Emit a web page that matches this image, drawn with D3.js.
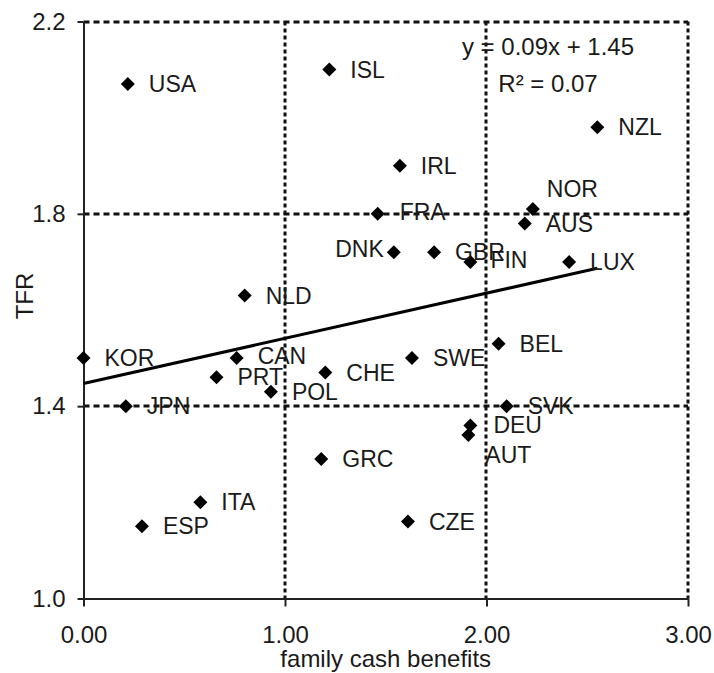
<!DOCTYPE html>
<html>
<head>
<meta charset="utf-8">
<script src="https://cdn.jsdelivr.net/npm/d3@7"></script>
<style>
  html, body { margin: 0; padding: 0; background: #fff; }
  svg { display: block; }
  text { font-family: "Liberation Sans", Arial, sans-serif; fill: #1a1a1a; }
</style>
</head>
<body>
<svg id="chart" width="714" height="673"></svg>
<script>
// Country codes, family cash benefits (x) and total fertility rate (y)
const countries = ["USA","ISL","NLD","DNK","GBR","FIN","LUX","NZL","IRL","FRA","NOR","AUS",
                   "KOR","CAN","PRT","POL","CHE","JPN","GRC","ITA","ESP","SWE","BEL","SVK",
                   "DEU","AUT","CZE"];
const benefits  = [0.22,1.22,0.80,1.54,1.74,1.92,2.41,2.55,1.57,1.46,2.23,2.19,
                   0.00,0.76,0.66,0.93,1.20,0.21,1.18,0.58,0.29,1.63,2.06,2.10,
                   1.92,1.91,1.61];
const tfr       = [2.07,2.10,1.63,1.72,1.72,1.70,1.70,1.98,1.90,1.80,1.81,1.78,
                   1.50,1.50,1.46,1.43,1.47,1.40,1.29,1.20,1.15,1.50,1.53,1.40,
                   1.36,1.34,1.16];

// Axis ticks
const xTicks = [0, 1, 2, 3];
const yTicks = [1.0, 1.4, 1.8, 2.2];

// Linear trend line
const trendSlope = 0.094;
const trendIntercept = 1.447;
const trendR2 = 0.07;

// Label placement tweaks for crowded points
const labelNudge = {
  DNK: { dx: -10, dy: -3, anchor: "end" },
  NOR: { dx: 14, dy: -20 },
  AUT: { dx: 17, dy: 20 },
  FIN: { dx: 20, dy: -2 },
  FRA: { dx: 22, dy: -2 },
  CAN: { dx: 21, dy: -2 },
  DEU: { dx: 23, dy: 0 }
};

const svg = d3.select("#chart");
const plotLeft = 83.5, plotRight = 688, plotTop = 21.5, plotBottom = 598.5;

const x = d3.scaleLinear().domain([0, 3]).range([plotLeft, plotRight]);
const y = d3.scaleLinear().domain([1.0, 2.2]).range([plotBottom, plotTop]);

svg.append("rect").attr("width", 714).attr("height", 673).attr("fill", "#fff");

// Grid: dashed horizontals, dotted verticals
const grid = svg.append("g");
grid.selectAll("line.h").data(yTicks.filter(v => v > 1.0)).join("line")
  .attr("class", "h")
  .attr("x1", plotLeft).attr("x2", plotRight)
  .attr("y1", d => Math.round(y(d))).attr("y2", d => Math.round(y(d)))
  .attr("stroke", "#111").attr("stroke-width", 3)
  .attr("stroke-dasharray", "6,4");
grid.selectAll("line.v").data(xTicks.filter(v => v > 0)).join("line")
  .attr("class", "v")
  .attr("x1", d => Math.round(x(d))).attr("x2", d => Math.round(x(d)))
  .attr("y1", plotTop).attr("y2", plotBottom)
  .attr("stroke", "#111").attr("stroke-width", 3)
  .attr("stroke-dasharray", "4,3");

// Axes
const xAxis = svg.append("g")
  .attr("transform", `translate(0,${plotBottom})`)
  .call(d3.axisBottom(x).tickValues(xTicks).tickFormat(d3.format(".2f"))
        .tickSize(8).tickPadding(19).tickSizeOuter(0));
const yAxis = svg.append("g")
  .attr("transform", `translate(${plotLeft},0)`)
  .call(d3.axisLeft(y).tickValues(yTicks).tickFormat(d3.format(".1f"))
        .tickSize(6).tickPadding(12).tickSizeOuter(0));

[xAxis, yAxis].forEach(g => {
  g.select(".domain").attr("stroke", "#222").attr("stroke-width", 2);
  g.selectAll(".tick line").attr("stroke", "#222").attr("stroke-width", 2);
  g.selectAll(".tick text")
    .attr("font-family", '"Liberation Sans", Arial, sans-serif')
    .attr("font-size", 24).attr("fill", "#1a1a1a");
});

// Axis titles
svg.append("text")
  .attr("x", (plotLeft + plotRight) / 2).attr("y", 667)
  .attr("text-anchor", "middle").attr("font-size", 24)
  .text("family cash benefits");
svg.append("text")
  .attr("transform", `translate(33,296) rotate(-90)`)
  .attr("text-anchor", "middle").attr("font-size", 24)
  .text("TFR");

// Trend line across the range of the data
const xExt = d3.extent(benefits);
svg.append("line")
  .attr("x1", x(xExt[0])).attr("y1", y(trendIntercept + trendSlope * xExt[0]))
  .attr("x2", x(xExt[1])).attr("y2", y(trendIntercept + trendSlope * xExt[1]))
  .attr("stroke", "#000").attr("stroke-width", 3);

// Trend equation
const f2 = d3.format(".2f");
svg.append("text")
  .attr("x", 548).attr("y", 55).attr("text-anchor", "middle").attr("font-size", 24)
  .text(`y = ${f2(trendSlope)}x + ${f2(trendIntercept)}`);
svg.append("text")
  .attr("x", 548).attr("y", 91.7).attr("text-anchor", "middle").attr("font-size", 24)
  .text(`R² = ${f2(trendR2)}`);

// Points
const points = countries.map((c, i) => ({ c, bx: benefits[i], ty: tfr[i] }));
const diamond = d3.symbol().type(d3.symbolSquare).size(98);
svg.append("g").selectAll("path").data(points).join("path")
  .attr("d", diamond)
  .attr("transform", d => `translate(${x(d.bx)},${y(d.ty)}) rotate(45)`)
  .attr("fill", "#000");

// Point labels
svg.append("g").selectAll("text").data(points).join("text")
  .attr("x", d => x(d.bx) + ((labelNudge[d.c] || {}).dx ?? 21))
  .attr("y", d => y(d.ty) + ((labelNudge[d.c] || {}).dy ?? 0))
  .attr("dy", "0.35em")
  .attr("text-anchor", d => (labelNudge[d.c] || {}).anchor || "start")
  .attr("font-size", 23)
  .text(d => d.c);
</script>
</body>
</html>
